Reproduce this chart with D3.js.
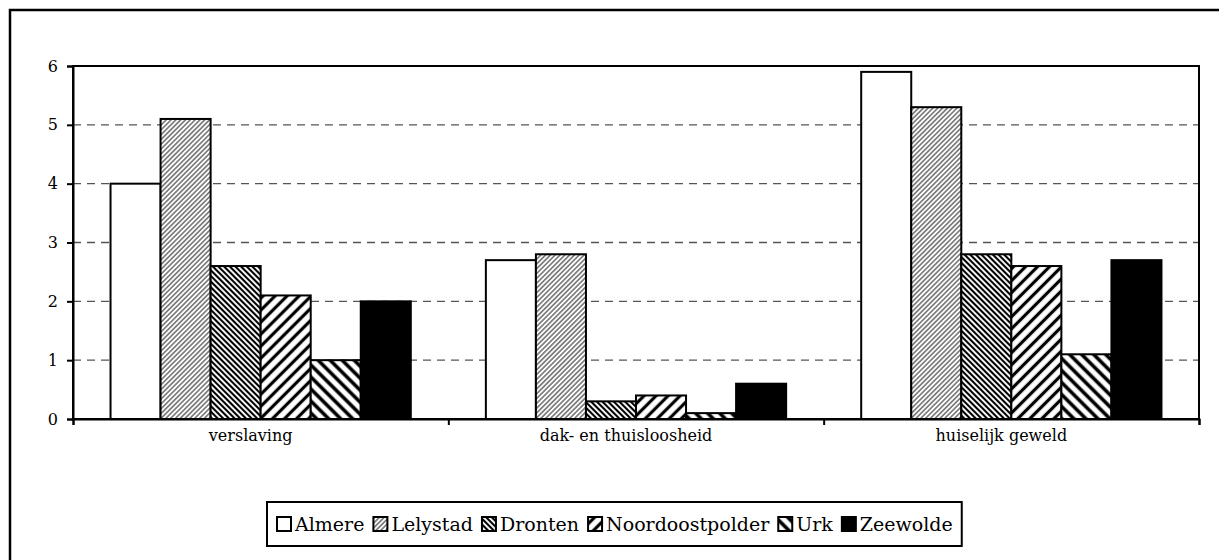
<!DOCTYPE html>
<html lang="nl">
<head>
  <meta charset="UTF-8">
  <title>Flevoland</title>
  <script src="https://d3js.org/d3.v7.min.js"></script>
  <style>
    body { margin: 0; background: #fff; }
    text { font-family: "DejaVu Serif", serif; fill: #000; }
  </style>
</head>
<body>
<div class="main"></div>
<script>
  // data
  var categories = ["verslaving", "dak- en thuisloosheid", "huiselijk geweld"];
  var series = ["Almere", "Lelystad", "Dronten", "Noordoostpolder", "Urk", "Zeewolde"];
  var almere = [4.0, 2.7, 5.9];
  var lelystad = [5.1, 2.8, 5.3];
  var dronten = [2.6, 0.3, 2.8];
  var noordoostpolder = [2.1, 0.4, 2.6];
  var urk = [1.0, 0.1, 1.1];
  var zeewolde = [2.0, 0.6, 2.7];
  var yTicks = [0, 1, 2, 3, 4, 5, 6];

  var values = [almere, lelystad, dronten, noordoostpolder, urk, zeewolde];
  var rows = [];
  categories.forEach(function (c, ci) {
    series.forEach(function (s, si) {
      rows.push({cat: c, ser: s, idx: si, value: values[si][ci]});
    });
  });

  let width = 1219, height = 560;
  let pLeft = 73, pRight = 1199, pTop = 66, pBottom = 419;

  var svg = d3.select(".main").append("svg")
      .attr("width", width)
      .attr("height", height)
      .style("display", "block");

  // hatch patterns
  var defs = svg.append("defs");
  function hatch(id, size, angle, sw, color) {
    var p = defs.append("pattern")
        .attr("id", id)
        .attr("patternUnits", "userSpaceOnUse")
        .attr("width", size).attr("height", size)
        .attr("patternTransform", "rotate(" + angle + ")");
    p.append("rect").attr("width", size).attr("height", size).attr("fill", "#fff");
    p.append("line").attr("x1", size / 2).attr("y1", 0).attr("x2", size / 2).attr("y2", size)
        .attr("stroke", color).attr("stroke-width", sw);
  }
  hatch("p1", 3.4, 45, 1.3, "#555");
  hatch("p2", 4, -45, 2.1, "#000");
  hatch("p3", 8.5, 45, 3.2, "#000");
  hatch("p4", 8.5, -45, 3.6, "#000");
  var fills = ["#fff", "url(#p1)", "url(#p2)", "url(#p3)", "url(#p4)", "#000"];

  // outer frame
  svg.append("rect").attr("x", 10).attr("y", 10).attr("width", 1400).attr("height", 700)
      .attr("fill", "none").attr("stroke", "#000").attr("stroke-width", 2.5);

  var yScale = d3.scaleLinear().domain([0, 6]).range([pBottom, pTop]);
  var xGroup = d3.scaleBand().domain(categories).range([pLeft, pRight]).padding(0);
  var gw = xGroup.bandwidth();
  var xSer = d3.scaleBand().domain(series).range([gw * 0.1, gw * 0.9]).padding(0);

  // gridlines
  svg.append("g").selectAll("line")
      .data(yTicks.filter(function (t) { return t > 0 && t < 6; }))
      .join("line")
      .attr("x1", pLeft).attr("x2", pRight)
      .attr("y1", function (d) { return yScale(d); })
      .attr("y2", function (d) { return yScale(d); })
      .attr("stroke", "#555").attr("stroke-width", 1.4)
      .attr("stroke-dasharray", "8,6");

  // bars
  svg.append("g").selectAll("rect")
      .data(rows)
      .join("rect")
      .attr("x", function (d) { return xGroup(d.cat) + xSer(d.ser); })
      .attr("y", function (d) { return yScale(d.value); })
      .attr("width", xSer.bandwidth())
      .attr("height", function (d) { return yScale(0) - yScale(d.value); })
      .attr("fill", function (d) { return fills[d.idx]; })
      .attr("stroke", "#000").attr("stroke-width", 2);

  // plot frame
  svg.append("rect").attr("x", pLeft).attr("y", pTop)
      .attr("width", pRight - pLeft).attr("height", pBottom - pTop)
      .attr("fill", "none").attr("stroke", "#000").attr("stroke-width", 2);

  // y axis
  let yAxis = d3.axisLeft(yScale).tickValues(yTicks).tickSize(6).tickPadding(9)
      .tickFormat(d3.format("d"));
  var ya = svg.append("g").attr("transform", "translate(" + pLeft + ",0)").call(yAxis);
  ya.select(".domain").attr("stroke", "#000").attr("stroke-width", 2);
  ya.selectAll(".tick line").attr("stroke", "#000").attr("stroke-width", 2);
  ya.selectAll(".tick text").style("font-family", "DejaVu Serif").style("font-size", "16px").attr("fill", "#000");

  // x axis: boundary ticks + category labels
  var xEdge = d3.scaleLinear().domain([0, 3]).range([pLeft, pRight]);
  let xAxis = d3.axisBottom(xEdge).tickValues([0, 1, 2, 3]).tickSize(6).tickFormat("");
  var xa = svg.append("g").attr("transform", "translate(0," + pBottom + ")").call(xAxis);
  xa.select(".domain").attr("stroke", "#000").attr("stroke-width", 2);
  xa.selectAll(".tick line").attr("stroke", "#000").attr("stroke-width", 2);

  svg.append("g").selectAll("text")
      .data(categories)
      .join("text")
      .attr("x", function (d) { return xGroup(d) + gw / 2 - 10; })
      .attr("y", 441)
      .attr("text-anchor", "middle")
      .style("font-size", "16px")
      .text(function (d) { return d; });

  // legend
  var lg = svg.append("g");
  var box = lg.append("rect").attr("y", 502).attr("height", 44)
      .attr("fill", "#fff").attr("stroke", "#000").attr("stroke-width", 2);
  var lx = 277, sw = 14;
  series.forEach(function (s, i) {
    lg.append("rect").attr("x", lx).attr("y", 517).attr("width", sw).attr("height", sw)
        .attr("fill", fills[i]).attr("stroke", "#000").attr("stroke-width", 2);
    var t = lg.append("text").attr("x", lx + sw + 4).attr("y", 531)
        .style("font-size", "19px").text(s);
    lx += sw + 4 + t.node().getComputedTextLength() + 9;
  });
  box.attr("x", 267).attr("width", lx - 267);
</script>
</body>
</html>
